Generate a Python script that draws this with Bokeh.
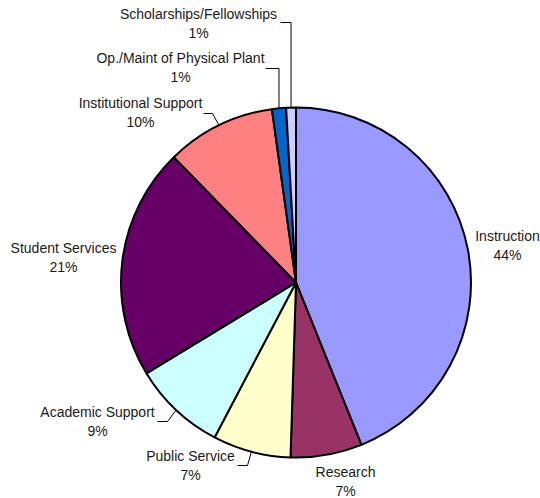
import math
from bokeh.plotting import figure
from bokeh.models import Range1d, ColumnDataSource
from bokeh.core.properties import value
from bokeh.embed import file_html
from bokeh.resources import INLINE

# ---- data ----
categories = ["Instruction", "Research", "Public Service", "Academic Support",
              "Student Services", "Institutional Support",
              "Op./Maint of Physical Plant", "Scholarships/Fellowships"]
shares = [43.9, 6.6, 7.2, 8.6, 21.4, 10.1, 1.3, 0.9]
colors = ["#9999FF", "#993366", "#FFFFCC", "#CCFFFF", "#660066", "#FF8080",
          "#0066CC", "#CCCCFF"]

# ---- layout (screen pixel coordinates) ----
W, H = 540, 498
CX, CY, R = 295.5, 282.0, 175.0
label_pos = [(507, 235), (345, 471), (190, 455), (97, 411),
             (63, 247), (140, 102), (180, 57), (198, 13)]
line_gap = 19
# leader elbows: category index -> (elbow, end)
leaders = {
    7: ((None, 22), (280, 22)),
    6: ((None, 68), (265, 68)),
    5: ((212, 113), (203, 113)),
    3: ((167, 421), (157, 421)),
    2: ((247, 465), (237, 465)),
}

def Y(sy):
    return H - sy

p = figure(width=W, height=H, output_backend="svg", toolbar_location=None,
           x_range=Range1d(0, W), y_range=Range1d(0, H),
           min_border=0)
p.axis.visible = False
p.grid.visible = False
p.outline_line_color = None

total = sum(shares)
starts, ends, mids = [], [], []
cum = 0.0
for s in shares:
    a0 = math.pi / 2 - 2 * math.pi * cum / total
    cum += s
    a1 = math.pi / 2 - 2 * math.pi * cum / total
    starts.append(a0)
    ends.append(a1)
    mids.append((a0 + a1) / 2)

src = ColumnDataSource(dict(start=starts, end=ends, color=colors,
                            x=[CX] * len(shares), y=[Y(CY)] * len(shares)))
p.wedge(x="x", y="y", radius=R, start_angle="start", end_angle="end",
        direction="clock", fill_color="color", line_color="black",
        line_width=2, source=src)

# leader lines
for i, (elbow, end) in leaders.items():
    ex = CX + R * math.cos(mids[i])
    ey = CY - R * math.sin(mids[i])
    bx = ex if elbow[0] is None else elbow[0]
    by = elbow[1]
    p.line([ex, bx, end[0]], [Y(ey), Y(by), Y(end[1])],
           line_color="black", line_width=1)

names_x = [lp[0] for lp in label_pos]
names_y = [Y(lp[1]) for lp in label_pos]
pct_y = [Y(lp[1] + line_gap) for lp in label_pos]
pct_txt = [f"{round(s / total * 100)}%" for s in shares]

p.text(x=names_x, y=names_y, text=categories, text_font=value("Liberation Sans"),
       text_font_size="14px", text_align="center", text_baseline="middle",
       text_color="#1a1a1a")
p.text(x=names_x, y=pct_y, text=pct_txt, text_font=value("Liberation Sans"),
       text_font_size="14px", text_align="center", text_baseline="middle",
       text_color="#1a1a1a")

open("out.html", "w").write(file_html(p, INLINE))
